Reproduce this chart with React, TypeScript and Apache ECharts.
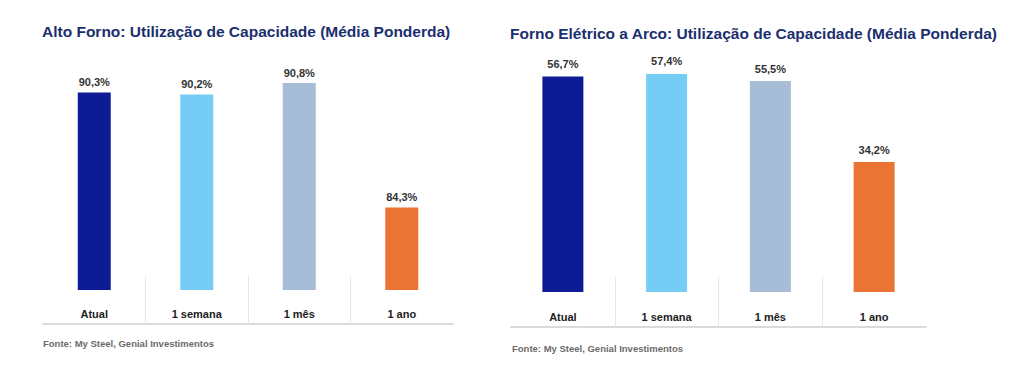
import React, { useEffect, useRef } from "react";
import * as echarts from "echarts";

const categories = ["Atual", "1 semana", "1 mês", "1 ano"];
const altoFornoValues = [90.3, 90.2, 90.8, 84.3];
const arcoValues = [56.7, 57.4, 55.5, 34.2];
const barColors = ["#0D1C94", "#75CDF5", "#A7BCD6", "#EA7433"];
const titleLeft = "Alto Forno: Utilização de Capacidade (Média Ponderda)";
const titleRight = "Forno Elétrico a Arco: Utilização de Capacidade (Média Ponderda)";
const sourceText = "Fonte: My Steel, Genial Investimentos";
const separatorSlots = ["", "", "", "", ""];

const FONT = "'Liberation Sans', Arial, sans-serif";

function fmt(v: number) {
  return v.toFixed(1).replace(".", ",") + "%";
}

export default function App() {
  const ref = useRef<HTMLDivElement>(null);
  useEffect(() => {
    if (!ref.current) return;
    const chart = echarts.init(ref.current, undefined, { renderer: "svg" });
    const labelAxis = (gridIndex: number, margin: number) => ({
      type: "category",
      gridIndex,
      data: categories,
      axisLine: { show: false },
      axisTick: { show: false },
      axisLabel: {
        margin,
        fontFamily: FONT,
        fontSize: 11,
        fontWeight: "bold",
        color: "#222",
      },
    });
    const sepAxis = (gridIndex: number, offset: number, len: number) => ({
      type: "category",
      gridIndex,
      position: "bottom",
      offset,
      boundaryGap: false,
      data: separatorSlots,
      axisLine: { show: true, lineStyle: { color: "#DADADA", width: 2 } },
      axisTick: {
        show: true,
        inside: true,
        length: len,
        interval: (i: number) => i > 0 && i < 4,
        lineStyle: { color: "#E6E6E6", width: 1 },
      },
      axisLabel: { show: false },
      splitLine: { show: false },
    });
    const barSeries = (idx: number, values: number[], width: number, dist: number) => ({
      type: "bar",
      xAxisIndex: idx * 2,
      yAxisIndex: idx,
      barWidth: width,
      data: values.map((v, i) => ({ value: v, itemStyle: { color: barColors[i] } })),
      label: {
        show: true,
        position: "top",
        distance: dist,
        formatter: (p: any) => fmt(p.value),
        fontFamily: FONT,
        fontSize: 11,
        fontWeight: "bold",
        color: "#333",
      },
    });
    const titleStyle = { fontFamily: FONT, fontSize: 15.5, fontWeight: "bold", color: "#1B2F6E" };
    const srcStyle = { fontFamily: FONT, fontSize: 9.5, fontWeight: "bold", color: "#6B6B6B" };
    chart.setOption({
      animation: false,
      backgroundColor: "#ffffff",
      title: [
        { text: titleLeft, left: 42, top: 23, padding: 0, textStyle: titleStyle },
        { text: titleRight, left: 510, top: 25, padding: 0, textStyle: titleStyle },
        { text: sourceText, left: 43, top: 338, padding: 0, textStyle: srcStyle },
        { text: sourceText, left: 512, top: 343, padding: 0, textStyle: srcStyle },
      ],
      grid: [
        { left: 43, top: 60, width: 410, height: 230 },
        { left: 511, top: 64, width: 415, height: 228 },
      ],
      xAxis: [labelAxis(0, 18), sepAxis(0, 34, 48), labelAxis(1, 19), sepAxis(1, 35, 50)],
      yAxis: [
        { type: "value", gridIndex: 0, min: 80, max: 92, show: false, splitLine: { show: false } },
        { type: "value", gridIndex: 1, min: 0, max: 60, show: false, splitLine: { show: false } },
      ],
      series: [barSeries(0, altoFornoValues, 33, 5), barSeries(1, arcoValues, 41, 7)],
    });
    return () => chart.dispose();
  }, []);
  return (
    <div
      ref={ref}
      style={{ position: "fixed", left: 0, top: 0, width: 1024, height: 391, background: "#fff" }}
    />
  );
}
